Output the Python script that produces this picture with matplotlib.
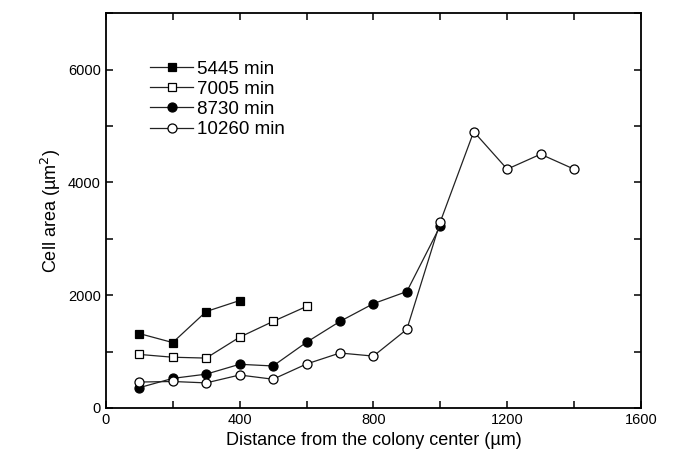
import matplotlib
matplotlib.use("Agg")
import matplotlib.pyplot as plt
from matplotlib.ticker import MultipleLocator

plt.rcParams["font.family"] = ["Liberation Sans", "DejaVu Sans"]

# ── data ──────────────────────────────────────────────────────────────
x_5445 = [100, 200, 300, 400]
y_5445 = [1320, 1160, 1710, 1905]

x_7005 = [100, 200, 300, 400, 500, 600]
y_7005 = [950, 900, 885, 1255, 1535, 1800]

x_8730 = [100, 200, 300, 400, 500, 600, 700, 800, 900, 1000]
y_8730 = [360, 525, 600, 775, 745, 1165, 1535, 1850, 2065, 3230]

x_10260 = [100, 200, 300, 400, 500, 600, 700, 800, 900, 1000, 1100, 1200, 1300, 1400]
y_10260 = [460, 470, 445, 585, 510, 780, 975, 920, 1395, 3300, 4900, 4235, 4500, 4235]

labels = ["5445 min", "7005 min", "8730 min", "10260 min"]

fig = plt.figure(figsize=(6.74, 4.65), dpi=100)
ax = fig.add_axes([0.157, 0.1226, 0.794, 0.849])

line_kw = dict(color="#222222", lw=0.9, mec="black", mew=0.9)
ax.plot(x_5445, y_5445, marker="s", mfc="black", ms=5.6, label=labels[0], **line_kw)
ax.plot(x_7005, y_7005, marker="s", mfc="white", ms=5.6, label=labels[1], **line_kw)
ax.plot(x_8730, y_8730, marker="o", mfc="black", ms=6.5, label=labels[2], **line_kw)
ax.plot(x_10260, y_10260, marker="o", mfc="white", ms=6.5, label=labels[3], **line_kw)

ax.set_xlim(0, 1600)
ax.set_ylim(0, 7000)
ax.xaxis.set_major_locator(MultipleLocator(400))
ax.xaxis.set_minor_locator(MultipleLocator(200))
ax.yaxis.set_major_locator(MultipleLocator(2000))
ax.yaxis.set_minor_locator(MultipleLocator(1000))
ax.tick_params(which="both", direction="in", top=True, right=True,
               labelsize=10.5, width=1.1, length=5)
for sp in ax.spines.values():
    sp.set_linewidth(1.3)

ax.set_xlabel("Distance from the colony center (\u00b5m)", fontsize=13)
ax.set_ylabel("Cell area (\u00b5m$^2$)", fontsize=13)

ax.legend(loc="upper left", bbox_to_anchor=(0.055, 0.918), frameon=False,
          fontsize=13.5, handlelength=2.3, handletextpad=0.2, labelspacing=0.16,
          borderpad=0.3)

fig.savefig("out.png", dpi=100)
